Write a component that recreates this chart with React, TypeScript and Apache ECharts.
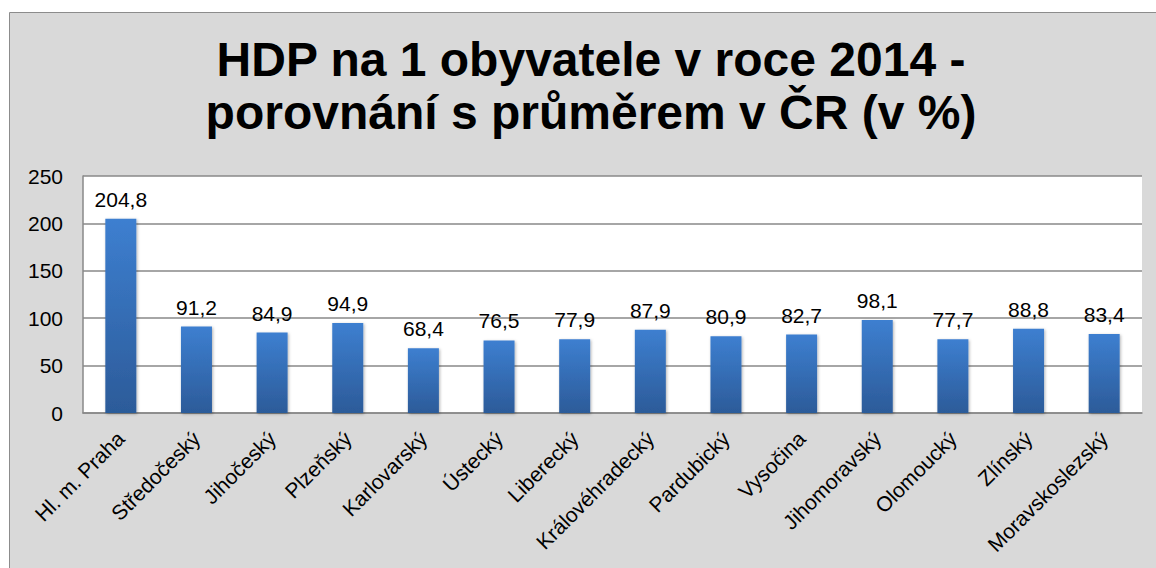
import React, { useEffect, useRef } from "react";
import * as echarts from "echarts";

const categories = [
  "Hl. m. Praha",
  "Středočeský",
  "Jihočeský",
  "Plzeňský",
  "Karlovarský",
  "Ústecký",
  "Liberecký",
  "Královéhradecký",
  "Pardubický",
  "Vysočina",
  "Jihomoravský",
  "Olomoucký",
  "Zlínský",
  "Moravskoslezský",
];
const values = [204.8, 91.2, 84.9, 94.9, 68.4, 76.5, 77.9, 87.9, 80.9, 82.7, 98.1, 77.7, 88.8, 83.4];
const titleLines = ["HDP na 1 obyvatele v roce 2014 -", "porovnání s průměrem v ČR (v %)"];

const FONT = "Arial, 'Liberation Sans', sans-serif";

export default function App() {
  const ref = useRef<HTMLDivElement>(null);
  useEffect(() => {
    if (!ref.current) return;
    const chart = echarts.init(ref.current, null, { renderer: "svg" });
    chart.setOption({
      animation: false,
      backgroundColor: "#ffffff",
      graphic: [
        {
          type: "rect",
          shape: { x: 9.5, y: 12.5, width: 1160, height: 570 },
          style: { fill: "#d9d9d9", stroke: "#8c8c8c", lineWidth: 1 },
          z: -10,
        },
      ],
      title: {
        text: titleLines.join("\n"),
        left: 591,
        textAlign: "center",
        top: 33,
        padding: 0,
        textStyle: {
          fontFamily: FONT,
          fontWeight: "bold",
          fontSize: 48,
          lineHeight: 53,
          color: "#000",
        },
      },
      grid: {
        left: 83,
        top: 176,
        right: 14,
        bottom: 155,
        show: true,
        backgroundColor: "#ffffff",
        borderWidth: 0,
      },
      xAxis: {
        type: "category",
        data: categories,
        axisLine: { show: true, lineStyle: { color: "#888888", width: 1.5 } },
        axisTick: { show: false },
        axisLabel: {
          rotate: 45,
          interval: 0,
          margin: 22,
          fontFamily: FONT,
          fontSize: 21,
          color: "#000",
        },
      },
      yAxis: {
        type: "value",
        min: 0,
        max: 250,
        interval: 50,
        axisLine: { show: true, lineStyle: { color: "#888888", width: 1.5 } },
        axisTick: { show: false },
        splitLine: { show: true, lineStyle: { color: "#888888", width: 1.5 } },
        axisLabel: {
          margin: 20,
          fontFamily: FONT,
          fontSize: 21,
          color: "#000",
        },
      },
      series: [
        {
          type: "bar",
          data: values,
          barWidth: 31,
          itemStyle: {
            color: new echarts.graphic.LinearGradient(0, 0, 0, 1, [
              { offset: 0, color: "#3d7fd0" },
              { offset: 1, color: "#2c5b99" },
            ]),
            shadowColor: "rgba(0,0,0,0.3)",
            shadowBlur: 3,
            shadowOffsetX: 1,
            shadowOffsetY: 1,
          },
          label: {
            show: true,
            position: "top",
            distance: 9,
            fontFamily: FONT,
            fontSize: 21,
            color: "#000",
            formatter: (p: any) => String(p.value).replace(".", ","),
          },
        },
      ],
    });
    return () => chart.dispose();
  }, []);
  return (
    <div
      ref={ref}
      style={{ position: "fixed", left: 0, top: 0, width: 1156, height: 568 }}
    />
  );
}
